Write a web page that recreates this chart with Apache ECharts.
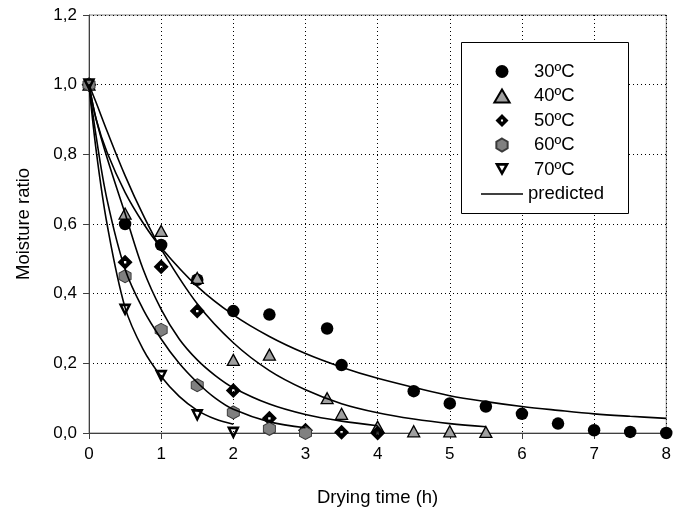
<!DOCTYPE html>
<html>
<head>
<meta charset="utf-8">
<script src="https://cdn.jsdelivr.net/npm/echarts@6/dist/echarts.min.js"></script>
<style>
html,body{margin:0;padding:0;background:#fff;}
#chart{width:674px;height:512px;}
</style>
</head>
<body>
<div id="chart"></div>
<script>
// ---- measured points ----
var t30 = [0, 0.5, 1, 1.5, 2, 2.5, 3.3, 3.5, 4.5, 5, 5.5, 6, 6.5, 7, 7.5, 8];
var mr30 = [1.0, 0.60, 0.54, 0.44, 0.35, 0.34, 0.30, 0.195, 0.12, 0.085, 0.076, 0.055, 0.027, 0.008, 0.003, 0.0];
var t40 = [0, 0.5, 1, 1.5, 2, 2.5, 3.3, 3.5, 4, 4.5, 5, 5.5];
var mr40 = [1.0, 0.63, 0.58, 0.445, 0.21, 0.225, 0.10, 0.055, 0.018, 0.005, 0.005, 0.003];
var t50 = [0, 0.5, 1, 1.5, 2, 2.5, 3, 3.5, 4];
var mr50 = [1.0, 0.49, 0.477, 0.35, 0.122, 0.042, 0.008, 0.002, 0.0];
var t60 = [0, 0.5, 1, 1.5, 2, 2.5, 3];
var mr60 = [1.0, 0.45, 0.296, 0.137, 0.059, 0.012, 0.0];
var t70 = [0, 0.5, 1, 1.5, 2];
var mr70 = [1.0, 0.353, 0.163, 0.05, 0.0];

// ---- predicted curves ----
var p30t = [0, 0.1, 0.25, 0.5, 0.75, 1, 1.5, 2, 2.5, 3, 3.5, 4, 4.5, 5, 5.5, 6, 6.5, 7, 7.5, 8];
var p30 = [1, 0.90, 0.806, 0.691, 0.603, 0.532, 0.421, 0.339, 0.277, 0.228, 0.189, 0.157, 0.131, 0.107, 0.090, 0.076, 0.065, 0.055, 0.048, 0.042];
var p40t = [0, 0.1, 0.25, 0.5, 0.75, 1, 1.5, 2, 2.5, 3, 3.5, 4, 4.5, 5, 5.5];
var p40 = [1, 0.948, 0.867, 0.739, 0.626, 0.528, 0.371, 0.259, 0.179, 0.124, 0.084, 0.058, 0.040, 0.027, 0.018];
var p50t = [0, 0.1, 0.25, 0.5, 0.75, 1, 1.25, 1.5, 1.75, 2, 2.5, 3, 3.5, 4];
var p50 = [1, 0.90, 0.79, 0.63, 0.47, 0.355, 0.27, 0.21, 0.165, 0.13, 0.083, 0.053, 0.034, 0.021];
var p60t = [0, 0.1, 0.25, 0.5, 0.75, 1, 1.25, 1.5, 1.75, 2, 2.5, 3];
var p60 = [1, 0.85, 0.67, 0.47, 0.355, 0.27, 0.2, 0.145, 0.1, 0.068, 0.032, 0.015];
var p70t = [0, 0.1, 0.25, 0.5, 0.75, 1, 1.25, 1.5, 1.75, 2];
var p70 = [1, 0.81, 0.6, 0.36, 0.24, 0.162, 0.105, 0.065, 0.04, 0.025];

var names = ['30ºC', '40ºC', '50ºC', '60ºC', '70ºC'];
var yTicks = [0, 0.2, 0.4, 0.6, 0.8, 1.0, 1.2];
var xTicks = [0, 1, 2, 3, 4, 5, 6, 7, 8];

function pairs(xs, ys) { return xs.map(function (x, i) { return [x, ys[i]]; }); }

var FONT = 'Liberation Sans, Arial, sans-serif';
var SYM_DIAMOND = 'path://M0,-10L10,0L0,10L-10,0Z M-1.6,-1.6L-1.6,1.6L1.6,1.6L1.6,-1.6Z';
var SYM_HEX = 'path://M0,-10L8.66,-5L8.66,5L0,10L-8.66,5L-8.66,-5Z';
var SYM_TRIDOWN = 'path://M-10,-8L10,-8L0,10Z M-3.8,-4.3L0,2.6L3.8,-4.3Z';
var SYM_TRI = 'path://M0,-9L10,8L-10,8Z';
var SYM_LINE = 'path://M0,0L42,0L42,1.6L0,1.6Z';

var lineStyle = { color: '#000', width: 1.6 };
function curve(xs, ys) {
  return {
    name: 'predicted', type: 'line', data: pairs(xs, ys), symbol: 'none', showSymbol: false,
    smooth: 0.35, lineStyle: lineStyle, itemStyle: { color: '#000' },
    silent: true, animation: false
  };
}

var series = [
  curve(p30t, p30), curve(p40t, p40), curve(p50t, p50), curve(p60t, p60), curve(p70t, p70),
  { name: names[0], type: 'scatter', data: pairs(t30, mr30), symbol: 'circle', symbolSize: 12.5,
    itemStyle: { color: '#000', opacity: 1 } },
  { name: names[1], type: 'scatter', data: pairs(t40, mr40), symbol: SYM_TRI, symbolSize: [12, 11],
    itemStyle: { color: '#a0a0a0', borderColor: '#000', borderWidth: 1.3, opacity: 1 } },
  { name: names[2], type: 'scatter', data: pairs(t50, mr50), symbol: SYM_DIAMOND, symbolSize: 15,
    itemStyle: { color: '#000', opacity: 1 } },
  { name: names[3], type: 'scatter', data: pairs(t60, mr60), symbol: SYM_HEX, symbolSize: [12, 13],
    itemStyle: { color: '#808080', borderColor: '#3a3a3a', borderWidth: 1, opacity: 1 } },
  { name: names[4], type: 'scatter', data: pairs(t70, mr70), symbol: SYM_TRIDOWN, symbolSize: 13,
    itemStyle: { color: '#000', opacity: 1 } }
];

var pad = { padding: [0, 0, 0, 6] };
var chart = echarts.init(document.getElementById('chart'), null, { renderer: 'canvas' });
chart.setOption({
  animation: false,
  backgroundColor: '#fff',
  textStyle: { fontFamily: FONT },
  grid: { left: 89, right: 3, top: 15, bottom: 78, show: true, borderColor: '#808080', borderWidth: 1 },
  xAxis: {
    type: 'value', min: xTicks[0], max: xTicks[xTicks.length - 1], interval: 1,
    name: 'Drying time (h)', nameLocation: 'middle', nameGap: 55,
    nameTextStyle: { fontSize: 18.5, color: '#000', fontFamily: FONT },
    axisLine: { show: true, lineStyle: { color: '#404040', width: 1 } },
    axisTick: { show: true, length: 6, lineStyle: { color: '#404040' } },
    axisLabel: { fontSize: 17, color: '#000', margin: 13, fontFamily: FONT },
    splitLine: { show: true, lineStyle: { color: '#000', type: [1, 3], width: 1 } }
  },
  yAxis: {
    type: 'value', min: yTicks[0], max: yTicks[yTicks.length - 1], interval: 0.2,
    name: 'Moisture ratio', nameLocation: 'middle', nameGap: 56,
    nameTextStyle: { fontSize: 18.5, color: '#000', fontFamily: FONT },
    axisLine: { show: true, lineStyle: { color: '#404040', width: 1 } },
    axisTick: { show: true, length: 6, lineStyle: { color: '#404040' } },
    axisLabel: { fontSize: 17, color: '#000', margin: 12, fontFamily: FONT,
      formatter: function (v) { return v.toFixed(1).replace('.', ','); } },
    splitLine: { show: true, lineStyle: { color: '#000', type: [1, 3], width: 1 } }
  },
  legend: {
    orient: 'vertical', left: 481, top: 62, padding: 0,
    itemWidth: 42, itemHeight: 13, itemGap: 5.5,
    textStyle: { fontSize: 18.5, color: '#000', fontFamily: FONT },
    data: [
      { name: names[0], icon: 'circle', textStyle: pad },
      { name: names[1], icon: SYM_TRI, textStyle: pad },
      { name: names[2], icon: SYM_DIAMOND, textStyle: pad },
      { name: names[3], icon: SYM_HEX, textStyle: pad },
      { name: names[4], icon: SYM_TRIDOWN, textStyle: pad },
      { name: 'predicted', icon: SYM_LINE }
    ],
    selectedMode: false
  },
  graphic: [{
    type: 'rect', z: 3, silent: true,
    shape: { x: 461.5, y: 42.5, width: 167, height: 171 },
    style: { fill: '#fff', stroke: '#000', lineWidth: 1 }
  }],
  series: series
});
</script>
</body>
</html>
